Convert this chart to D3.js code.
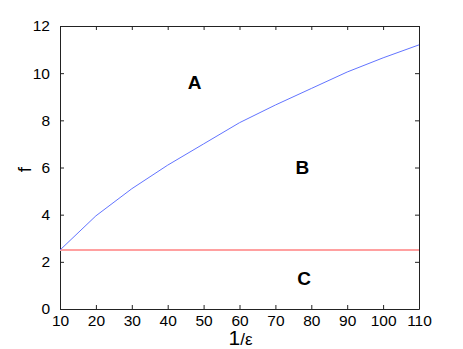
<!DOCTYPE html>
<html>
<head>
<meta charset="utf-8">
<script src="https://cdn.jsdelivr.net/npm/d3@7"></script>
<style>
  body { margin: 0; background: #fff; }
  text { font-family: "Liberation Sans", Arial, Helvetica, sans-serif; }
  .axis path, .axis line { stroke: #222; }
</style>
</head>
<body>
<div id="chart"></div>
<script>
// data
const invEps = [10, 20, 30, 40, 50, 60, 70, 80, 90, 100, 110];
const fBoundary = [2.5, 3.95, 5.1, 6.1, 7.0, 7.9, 8.65, 9.35, 10.05, 10.65, 11.2];
const fConst = 2.5;
const xTicks = [10, 20, 30, 40, 50, 60, 70, 80, 90, 100, 110];
const yTicks = [0, 2, 4, 6, 8, 10, 12];
const regions = [
  { name: 'A', x: 47.5, f: 9.6 },
  { name: 'B', x: 77.5, f: 6.0 },
  { name: 'C', x: 78, f: 1.3 }
];

const margin = { top: 26, right: 44, bottom: 40, left: 60 },
      width = 463 - margin.left - margin.right,
      height = 349 - margin.top - margin.bottom;

const svg = d3.select('#chart').append('svg')
      .attr('width', 463)
      .attr('height', 349);

const g = svg.append('g')
      .attr('transform', 'translate(' + margin.left + ',' + margin.top + ')');

const x = d3.scaleLinear().domain([10, 110]).range([0, width]),
      y = d3.scaleLinear().domain([0, 12]).range([height, 0]);

// axes, ticks pointing inward on all four sides
g.append('g')
    .attr('class', 'axis')
    .attr('transform', 'translate(0,' + height + ')')
    .call(d3.axisBottom(x).tickValues(xTicks).tickSizeInner(-4).tickSizeOuter(0).tickPadding(6))
    .call(a => a.selectAll('text').style('font-size', '15.5px').attr('fill', '#000'));

g.append('g')
    .attr('class', 'axis')
    .call(d3.axisLeft(y).tickValues(yTicks).tickSizeInner(-4).tickSizeOuter(0).tickPadding(10))
    .call(a => a.selectAll('text').style('font-size', '15.5px').attr('fill', '#000'));

g.append('g')
    .attr('class', 'axis')
    .call(d3.axisTop(x).tickValues(xTicks).tickSizeInner(-4).tickSizeOuter(0).tickFormat(''));

g.append('g')
    .attr('class', 'axis')
    .attr('transform', 'translate(' + width + ',0)')
    .call(d3.axisRight(y).tickValues(yTicks).tickSizeInner(-4).tickSizeOuter(0).tickFormat(''));

// horizontal boundary
g.append('line')
    .attr('x1', x(10)).attr('x2', x(110))
    .attr('y1', y(fConst)).attr('y2', y(fConst))
    .attr('stroke', '#ffa0a0')
    .attr('stroke-width', 2);

// curved boundary
const line = d3.line()
    .x((d, i) => x(invEps[i]))
    .y(d => y(d));

g.append('path')
    .datum(fBoundary)
    .attr('d', line)
    .attr('fill', 'none')
    .attr('stroke', '#6274ff')
    .attr('stroke-width', 1);

// region labels
g.selectAll('.region')
    .data(regions)
  .enter().append('text')
    .attr('class', 'region')
    .attr('x', d => x(d.x))
    .attr('y', d => y(d.f))
    .attr('dy', '0.35em')
    .attr('text-anchor', 'middle')
    .style('font-size', '19px')
    .style('font-weight', 'bold')
    .text(d => d.name);

// axis titles
svg.append('text')
    .attr('transform', 'translate(31,' + (margin.top + height / 2 + 2) + ') rotate(-90)')
    .attr('text-anchor', 'middle')
    .style('font-size', '19px')
    .text('f');

const xt = svg.append('text')
    .attr('x', margin.left + width / 2 + 1)
    .attr('y', 345)
    .attr('text-anchor', 'middle');
xt.append('tspan').style('font-size', '21px').text('1');
xt.append('tspan').style('font-size', '17px').text('/ε');
</script>
</body>
</html>
